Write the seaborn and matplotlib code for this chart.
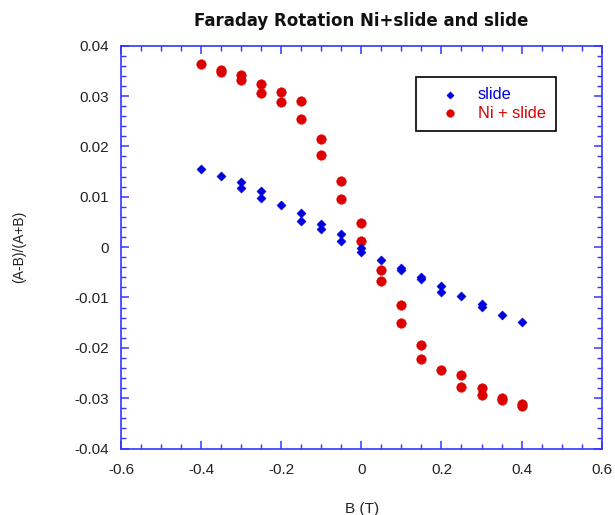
import matplotlib
matplotlib.use("Agg")
import matplotlib.pyplot as plt
from matplotlib.ticker import MultipleLocator, FuncFormatter
import seaborn as sns
import pandas as pd

# ---- data ----
slide_B = [-0.4, -0.35, -0.3, -0.3, -0.25, -0.25, -0.2, -0.15, -0.15, -0.1, -0.1,
           -0.05, -0.05, 0.0, 0.0, 0.05, 0.1, 0.1, 0.15, 0.15, 0.2, 0.2, 0.25,
           0.3, 0.3, 0.35, 0.4]
slide_val = [0.0155, 0.0142, 0.0129, 0.0117, 0.0111, 0.0098, 0.0083, 0.0068, 0.0052,
             0.0046, 0.0036, 0.0026, 0.0013, -0.0002, -0.0009, -0.0025, -0.0041,
             -0.0046, -0.0060, -0.0063, -0.0077, -0.0089, -0.0098, -0.0114,
             -0.0119, -0.0134, -0.0149]

ni_B = [-0.4, -0.35, -0.35, -0.3, -0.3, -0.25, -0.25, -0.2, -0.2, -0.15, -0.15,
        -0.1, -0.1, -0.05, -0.05, 0.0, 0.0, 0.05, 0.05, 0.1, 0.1, 0.15, 0.15,
        0.2, 0.25, 0.25, 0.3, 0.3, 0.35, 0.35, 0.4, 0.4]
ni_val = [0.0363, 0.0352, 0.0348, 0.0342, 0.0332, 0.0324, 0.0306, 0.0309, 0.0288,
          0.0291, 0.0255, 0.0215, 0.0182, 0.0131, 0.0096, 0.0048, 0.0013,
          -0.0046, -0.0068, -0.0115, -0.0150, -0.0195, -0.0222, -0.0245,
          -0.0255, -0.0277, -0.0279, -0.0293, -0.0299, -0.0304, -0.0311, -0.0316]

series_labels = ["slide", "Ni + slide"]
title_text = "Faraday Rotation Ni+slide and slide"
x_label = "B (T)"
y_label = "(A-B)/(A+B)"

BLUE = "#0000dd"
RED = "#dd0000"
AXC = "#3535ff"

sns.set_style("white")
plt.rcParams["font.family"] = ["Liberation Sans", "DejaVu Sans"]

df_slide = pd.DataFrame({"B": slide_B, "v": slide_val})
df_ni = pd.DataFrame({"B": ni_B, "v": ni_val})

fig = plt.figure(figsize=(6.15, 5.15), dpi=100)
ax = fig.add_axes([121 / 615, 1 - 448.5 / 515, (601.7 - 121) / 615, (448.5 - 45.7) / 515])

sns.scatterplot(data=df_ni, x="B", y="v", ax=ax, color=RED, marker="o",
                s=48, edgecolor=RED, linewidth=0.3, label=series_labels[1], zorder=3)
sns.scatterplot(data=df_slide, x="B", y="v", ax=ax, color=BLUE, marker="D",
                s=22, edgecolor=BLUE, linewidth=0.3, label=series_labels[0], zorder=4)

ax.set_xlim(-0.6, 0.6)
ax.set_ylim(-0.04, 0.04)
ax.xaxis.set_major_locator(MultipleLocator(0.2))
ax.xaxis.set_minor_locator(MultipleLocator(0.05))
ax.yaxis.set_major_locator(MultipleLocator(0.01))
ax.yaxis.set_minor_locator(MultipleLocator(0.002))
ax.xaxis.set_major_formatter(FuncFormatter(lambda v, p: "0" if abs(v) < 1e-9 else f"{v:.1f}"))
ax.yaxis.set_major_formatter(FuncFormatter(lambda v, p: "0" if abs(v) < 1e-9 else f"{v:.2f}"))

for sp in ax.spines.values():
    sp.set_color(AXC)
    sp.set_linewidth(1.2)
    sp.set_visible(True)

ax.tick_params(which="both", direction="in", top=True, right=True, bottom=True, left=True,
               color=AXC, labelcolor="#222222", labelsize=11)
ax.tick_params(which="major", length=5.8, width=1.1)
ax.tick_params(which="minor", length=3.6, width=1.0)
ax.tick_params(axis="y", pad=8.5)
ax.tick_params(axis="x", pad=10.5)

ax.set_title(title_text, fontsize=12, fontweight="bold", pad=14, color="#111111",
             family=["DejaVu Sans"])
ax.set_xlabel(x_label, fontsize=11, color="#222222")
ax.set_ylabel(y_label, fontsize=10, color="#222222")
ax.xaxis.set_label_coords(0.501, -0.132)
ax.yaxis.set_label_coords(-0.197, 0.5)

handles, labels = ax.get_legend_handles_labels()
order = [labels.index(l) for l in series_labels]
leg = ax.legend([handles[i] for i in order], [labels[i] for i in order],
                loc="upper left", bbox_to_anchor=(0.6137, 0.9223), borderaxespad=0,
                fontsize=11.8, frameon=True, fancybox=False, framealpha=1, markerscale=0.8,
                handlelength=2.87, handletextpad=0.27, borderpad=0.64, labelspacing=0.2)
leg.get_frame().set_edgecolor("black")
leg.get_frame().set_linewidth(1.2)
for t, c in zip(leg.get_texts(), [BLUE, RED]):
    t.set_color(c)

fig.savefig("out.png", dpi=100)
